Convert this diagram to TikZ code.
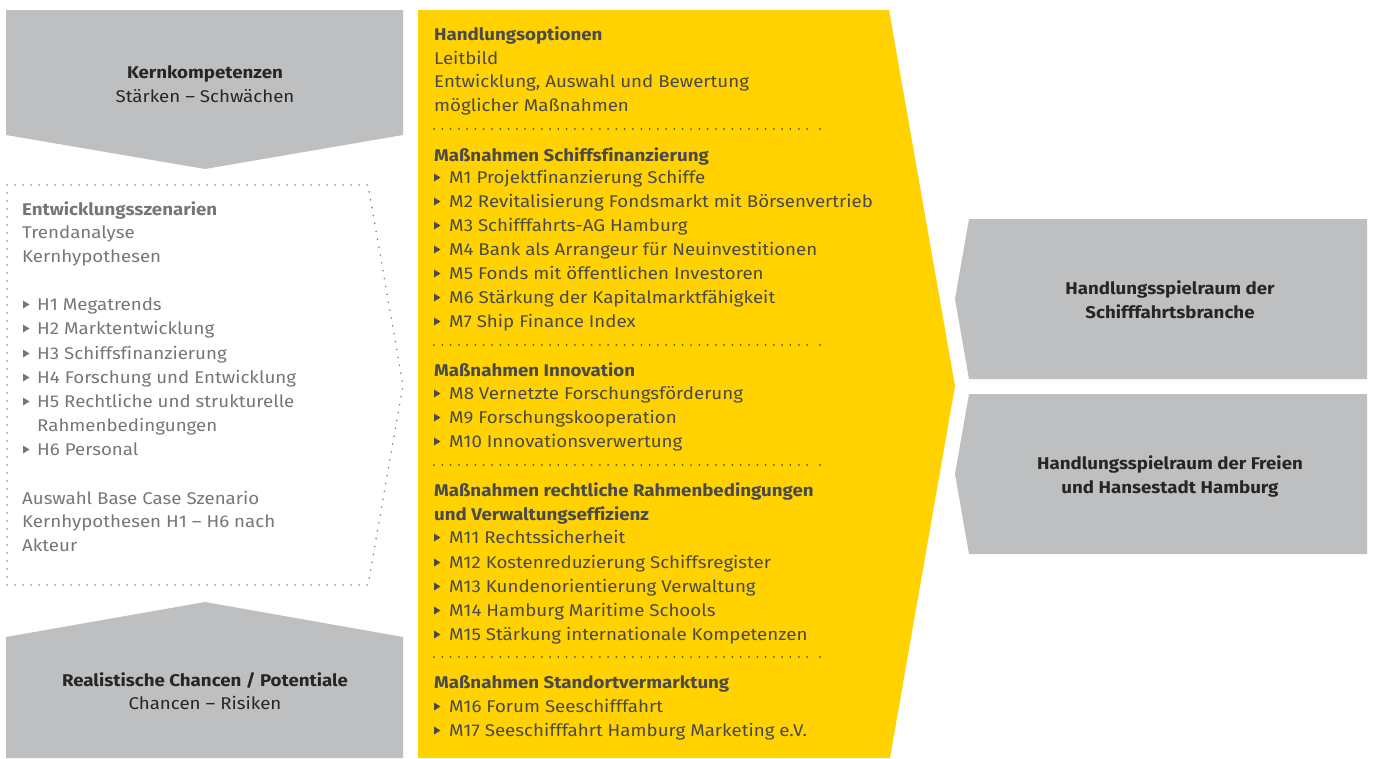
\documentclass[tikz,border=0pt]{standalone}
\usepackage{fontspec}
\setmainfont{Fira Sans}[FakeStretch=1.1, Ligatures=NoCommon]
\definecolor{eyy}{HTML}{FFD200}
\definecolor{gry}{HTML}{BEBFC1}
\definecolor{txd}{HTML}{4A4A4A}
\definecolor{txl}{HTML}{767676}
\definecolor{dotd}{HTML}{505050}
\definecolor{dotl}{HTML}{808080}
\begin{document}
\begin{tikzpicture}[x=1pt,y=-1pt,
  base/.style={inner sep=0pt, font=\fontsize{17}{24}\selectfont},
  ytxt/.style={base, anchor=base west, text=txd},
  yhd/.style={ytxt, font=\fontsize{17}{24}\selectfont\bfseries},
  ltxt/.style={base, anchor=base west, text=txl},
  lhd/.style={ltxt, font=\fontsize{17}{24}\selectfont\bfseries},
  ctxt/.style={base, anchor=base, text=black!85},
  chd/.style={ctxt, font=\fontsize{17}{24}\selectfont\bfseries},
  sepline/.style={dotd, line width=2pt, line cap=round, dash pattern=on 0pt off 8.29pt},
  boxdots/.style={dotl, line width=1.8pt, line cap=round, dash pattern=on 0pt off 8pt},
]
\useasboundingbox (0,0) rectangle (1373,758);

% ---- shapes ----
\fill[gry] (6,10) -- (403,10) -- (403,135) -- (205,169) -- (6,135) -- cycle;
\fill[gry] (6,758) -- (403,758) -- (403,637) -- (205,602) -- (6,637) -- cycle;
\fill[eyy] (418,10) -- (889,10) -- (955,386) -- (890,758) -- (418,758) -- cycle;
\fill[gry] (969,219) -- (1367,219) -- (1367,379) -- (969,379) -- (955,299) -- cycle;
\fill[gry] (969,394) -- (1367,394) -- (1367,554) -- (969,554) -- (955,474) -- cycle;
\draw[boxdots] (7,185) -- (368,185) -- (403,385) -- (368,585) -- (7,585) -- cycle;

% ---- left top / bottom ----
\node[chd] (kk1) at (205,78) {Kernkompetenzen};
\node[ctxt] (kk2) at (205,102) {Stärken – Schwächen};
\node[chd] (rc1) at (205,686) {Realistische Chancen / Potentiale};
\node[ctxt] (rc2) at (205,709) {Chancen – Risiken};

% ---- right ----
\node[chd] (hs1) at (1170,294) {Handlungsspielraum der};
\node[chd] (hs2) at (1170,318) {Schifffahrtsbranche};
\node[chd] (hf1) at (1170,469) {Handlungsspielraum der Freien};
\node[chd] (hf2) at (1170,493) {und Hansestadt Hamburg};

% ---- left dotted box ----
\node[lhd] (es) at (22,215) {Entwicklungsszenarien};
\foreach \yy/\tt [count=\i] in {238/Trendanalyse, 262/Kernhypothesen, 431/Rahmenbedingungen,
   504/Auswahl Base Case Szenario, 527/Kernhypothesen H1 – H6 nach, 551/Akteur}
  {\pgfmathsetmacro{\xx}{ifthenelse(\yy==431,37,22)}
   \node[ltxt] (lp\i) at (\xx,\yy) {\tt};}
\foreach \yy/\tt [count=\i] in {310/H1 Megatrends, 334/H2 Marktentwicklung, 359/H3 Schiffsfinanzierung,
   383/H4 Forschung und Entwicklung, 407/H5 Rechtliche und strukturelle, 455/H6 Personal}
  {\fill[txl] (23,\yy-9.5) -- (29.5,\yy-5.5) -- (23,\yy-1.5) -- cycle;
   \node[ltxt] (lb\i) at (37,\yy) {\tt};}

% ---- yellow column ----
\foreach \yy/\tt [count=\i] in {40/Handlungsoptionen, 161/Maßnahmen Schiffsfinanzierung,
   376/Maßnahmen Innovation, 496/Maßnahmen rechtliche Rahmenbedingungen,
   520/und Verwaltungseffizienz, 688/Maßnahmen Standortvermarktung}
  {\node[yhd] (yh\i) at (434,\yy) {\tt};}
\foreach \yy/\tt [count=\i] in {64/Leitbild, 87/{Entwicklung, Auswahl und Bewertung}, 111/möglicher Maßnahmen}
  {\node[ytxt] (yp\i) at (434,\yy) {\tt};}
\foreach \yy/\tt [count=\i] in {
   183/M1 Projektfinanzierung Schiffe,
   207/M2 Revitalisierung Fondsmarkt mit Börsenvertrieb,
   231/M3 Schifffahrts-AG Hamburg,
   255/M4 Bank als Arrangeur für Neuinvestitionen,
   279/M5 Fonds mit öffentlichen Investoren,
   303/M6 Stärkung der Kapitalmarktfähigkeit,
   327/M7 Ship Finance Index,
   399/M8 Vernetzte Forschungsförderung,
   423/M9 Forschungskooperation,
   447/M10 Innovationsverwertung,
   543/M11 Rechtssicherheit,
   568/M12 Kostenreduzierung Schiffsregister,
   592/M13 Kundenorientierung Verwaltung,
   616/M14 Hamburg Maritime Schools,
   640/M15 Stärkung internationale Kompetenzen,
   712/M16 Forum Seeschifffahrt,
   736/M17 Seeschifffahrt Hamburg Marketing e.V.}
  {\fill[txd] (434,\yy-9.5) -- (440.5,\yy-5.5) -- (434,\yy-1.5) -- cycle;
   \node[ytxt] (ym\i) at (449,\yy) {\tt};}
\foreach \yy in {129,345,465,657}
  {\draw[sepline] (434,\yy) -- (808,\yy);
   \fill[dotd] (820,\yy) circle (1pt);}
\end{tikzpicture}
\end{document}
